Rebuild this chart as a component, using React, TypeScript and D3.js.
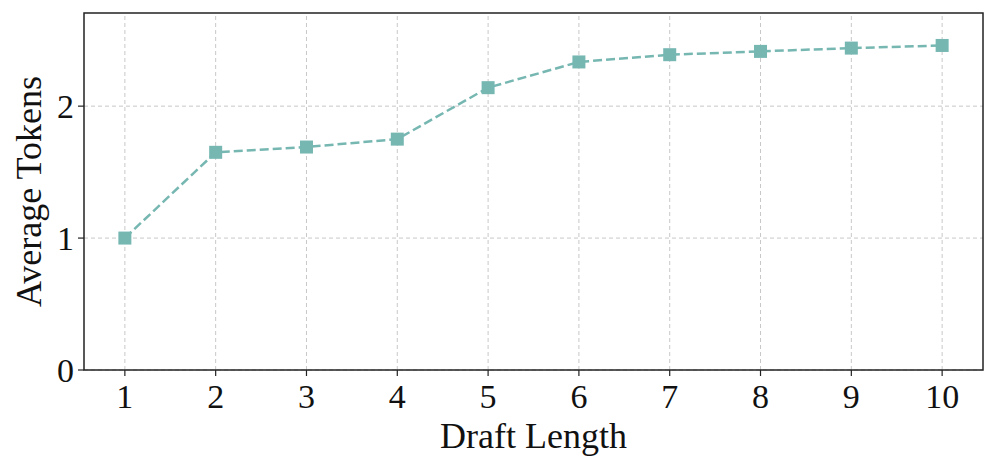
import React from "react";
import * as d3 from "d3";

const draftLengths = [1, 2, 3, 4, 5, 6, 7, 8, 9, 10];
const averageTokens = [1.0, 1.65, 1.69, 1.75, 2.14, 2.335, 2.39, 2.415, 2.44, 2.46];
const yTicks = [0, 1, 2];

const W = 996, H = 470;
const margin = { left: 84, right: 13, top: 13, bottom: 100 };
const color = "#76b7b2";
const font = "'Liberation Serif', 'Times New Roman', serif";

export default function App() {
  const x = d3.scaleLinear().domain([0.55, 10.45]).range([margin.left, W - margin.right]);
  const y = d3.scaleLinear().domain([0, 2.706]).range([H - margin.bottom, margin.top]);
  const line = d3.line<number>().x((_, i) => x(draftLengths[i])).y((d) => y(d));
  const x0 = margin.left, x1 = W - margin.right, y0 = H - margin.bottom, y1 = margin.top;
  const ms = 13;
  return (
    <svg width={W} height={H} style={{ position: "absolute", left: 0, top: 0 }}>
      <rect x={0} y={0} width={W} height={H} fill="#fff" />
      {draftLengths.map((d) => (
        <line key={"gx" + d} x1={x(d)} x2={x(d)} y1={y0} y2={y1} stroke="#c8c8c8" strokeWidth={1} strokeDasharray="4,3" />
      ))}
      {yTicks.map((t) => (
        <line key={"gy" + t} x1={x0} x2={x1} y1={y(t)} y2={y(t)} stroke="#c8c8c8" strokeWidth={1} strokeDasharray="4,3" />
      ))}
      <path d={line(averageTokens) || ""} fill="none" stroke={color} strokeWidth={2.5} strokeDasharray="9,4" />
      {averageTokens.map((v, i) => (
        <rect key={"m" + i} x={x(draftLengths[i]) - ms / 2} y={y(v) - ms / 2} width={ms} height={ms} fill={color} />
      ))}
      <rect x={x0} y={y1} width={x1 - x0} height={y0 - y1} fill="none" stroke="#222" strokeWidth={1.5} />
      {draftLengths.map((d) => (
        <g key={"tx" + d}>
          <line x1={x(d)} x2={x(d)} y1={y0} y2={y0 + 6} stroke="#222" strokeWidth={1.2} />
          <text x={x(d)} y={y0 + 38} textAnchor="middle" fontFamily={font} fontSize={34} fill="#111">{d}</text>
        </g>
      ))}
      {yTicks.map((t) => (
        <g key={"ty" + t}>
          <line x1={x0 - 6} x2={x0} y1={y(t)} y2={y(t)} stroke="#222" strokeWidth={1.2} />
          <text x={x0 - 10} y={y(t) + 12} textAnchor="end" fontFamily={font} fontSize={34} fill="#111">{t}</text>
        </g>
      ))}
      <text x={(x0 + x1) / 2} y={y0 + 78} textAnchor="middle" fontFamily={font} fontSize={36} fill="#111">Draft Length</text>
      <text transform={`translate(41, ${(y0 + y1) / 2}) rotate(-90)`} textAnchor="middle" fontFamily={font} fontSize={36} fill="#111">Average Tokens</text>
    </svg>
  );
}
